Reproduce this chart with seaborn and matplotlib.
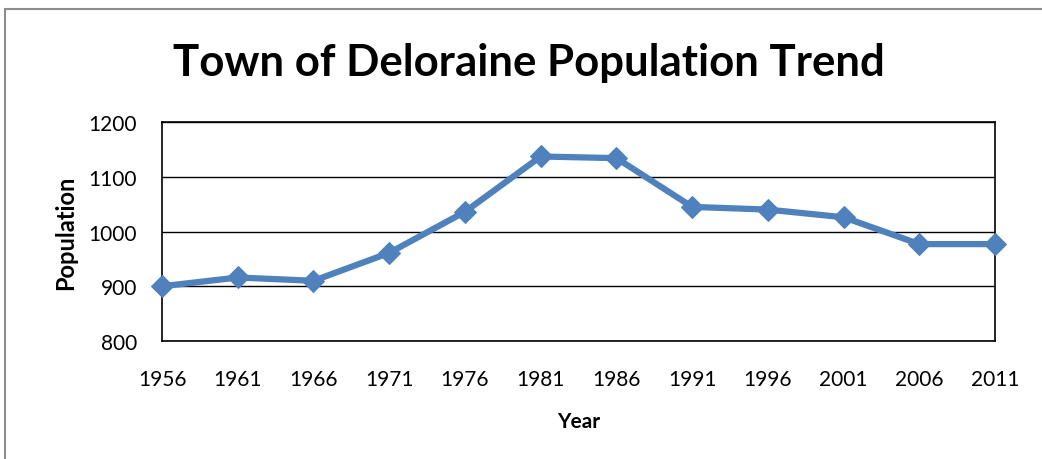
import matplotlib
matplotlib.use("Agg")
import matplotlib.pyplot as plt
from matplotlib.patches import Rectangle
import seaborn as sns
import pandas as pd

# data
years = [1956, 1961, 1966, 1971, 1976, 1981, 1986, 1991, 1996, 2001, 2006, 2011]
population = [900, 916, 910, 961, 1036, 1137, 1134, 1045, 1040, 1026, 977, 977]
y_ticks = [800, 900, 1000, 1100, 1200]

df = pd.DataFrame({'Year': years, 'Population': population})

sns.set_style("white")
plt.rcParams['font.family'] = ['Lato', 'DejaVu Sans']
plt.rcParams['text.color'] = 'black'
plt.rcParams['axes.labelcolor'] = 'black'

fig = plt.figure(figsize=(10.42, 4.6), dpi=100)
ax = fig.add_axes([0.1555, 0.2565, 0.7995, 0.4761])

# gray outer chart border (runs off the right and bottom edges)
fig.patches.append(Rectangle((5 / 1042, -0.1), 1.2, 1 - 10 / 460 + 0.1,
                             transform=fig.transFigure, fill=False,
                             edgecolor='#8c8c8c', linewidth=1.5))

sns.lineplot(data=df, x='Year', y='Population', ax=ax,
             color='#4F81BD', linewidth=4.5, marker='D', markersize=11,
             markeredgecolor='#4F81BD', clip_on=False, zorder=3)

ax.set_xlim(years[0], years[-1])
ax.set_ylim(y_ticks[0], y_ticks[-1])
ax.set_xticks(years)
ax.set_yticks(y_ticks)
ax.yaxis.grid(True, color='black', linewidth=1)
ax.set_axisbelow(True)
for s in ax.spines.values():
    s.set_color('black')
    s.set_linewidth(1.2)

ax.tick_params(axis='both', direction='out', length=6, width=1.2, color='black',
               labelsize=15, labelcolor='black')
ax.tick_params(axis='x', pad=14)
ax.tick_params(axis='y', pad=12)

ax.set_xlabel('Year', fontsize=15, fontweight='bold', labelpad=16)
ax.set_ylabel('Population', fontsize=17, fontweight='bold', labelpad=8)

fig.text(0.508, 0.862, 'Town of Deloraine Population Trend', ha='center', va='center',
         fontsize=31.5, fontweight='bold')

fig.savefig('out.png', dpi=100)
